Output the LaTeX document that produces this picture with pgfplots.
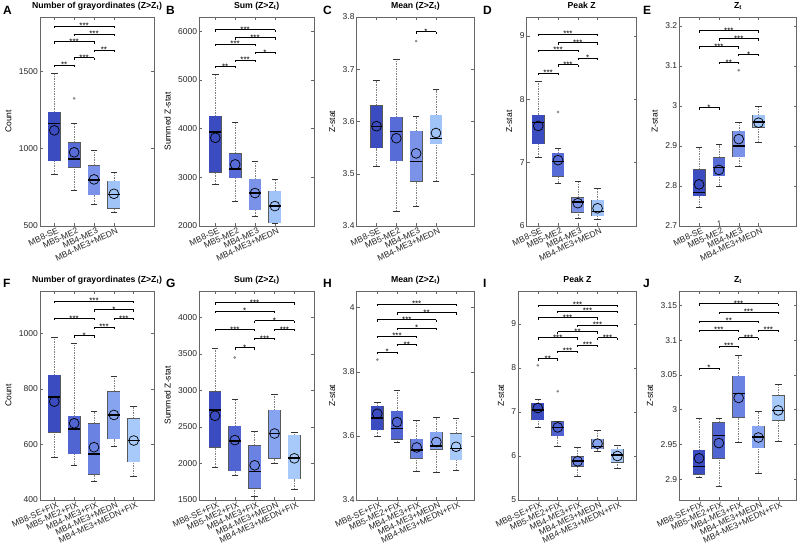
\documentclass[border=0pt]{standalone}
\usepackage{fontspec}
\setmainfont{Liberation Sans}
\usepackage{pgfplots}
\pgfplotsset{compat=1.18}

\definecolor{c41}{RGB}{59,76,192}
\definecolor{c42}{RGB}{87,108,214}
\definecolor{c43}{RGB}{122,146,232}
\definecolor{c44}{RGB}{160,195,248}
\definecolor{c51}{RGB}{59,76,192}
\definecolor{c52}{RGB}{80,100,210}
\definecolor{c53}{RGB}{106,130,226}
\definecolor{c54}{RGB}{135,164,240}
\definecolor{c55}{RGB}{168,202,250}

\pgfplotsset{
  panel/.style={
    anchor=south west, scale only axis, clip=false,
    axis line style={black!60, line width=0.5pt},
    tick style={black!60, line width=0.5pt},
    major tick length=3pt,
    tick label style={font=\fontsize{8.5}{10}\selectfont, text=black!85},
    xticklabel style={rotate=25, anchor=north east, inner sep=0.5pt, xshift=2pt, yshift=-1.5pt, font=\fontsize{8.5}{9}\selectfont},
    yticklabel style={inner sep=2pt},
    title style={at={(0.5,1)}, anchor=base, yshift=2.5pt, font=\bfseries\fontsize{8.7}{10}\selectfont},
    ylabel style={font=\fontsize{8.5}{10}\selectfont, yshift=2pt},
    /pgf/number format/assume math mode=true,
    /pgf/number format/1000 sep={},
    scaled y ticks=false,
  },
}

% #1 position, #2 lower whisker, #3 q1, #4 median, #5 q3, #6 upper whisker, #7 mean, #8 colour
\newcommand{\bx}[8]{%
  \addplot[black!50, dash pattern=on 1.5pt off 1pt, line width=0.5pt] coordinates {(#1,#2)(#1,#3)};
  \addplot[black!50, dash pattern=on 1.5pt off 1pt, line width=0.5pt] coordinates {(#1,#5)(#1,#6)};
  \addplot[only marks, mark=-, mark size=3.3pt, mark options={draw=black!80, line width=0.6pt}] coordinates {(#1,#2)(#1,#6)};
  \addplot[black!65, line width=12.8pt, shorten <=-0.45pt, shorten >=-0.45pt] coordinates {(#1,#3)(#1,#5)};
  \addplot[#8, line width=11.9pt] coordinates {(#1,#3)(#1,#5)};
  \addplot[only marks, mark=*, mark size=4.9pt, mark options={fill=#8, draw=black, line width=0.7pt}] coordinates {(#1,#7)};
  \addplot[only marks, mark=-, mark size=5.95pt, mark options={draw=black, line width=1.4pt}] coordinates {(#1,#4)};
}
\newcommand{\outl}[2]{\addplot[only marks, mark=*, mark size=1.1pt, color=black!45] coordinates {(#1,#2)};}
% #1 x1, #2 x2, #3 middle, #4 y, #5 stars
\newcommand{\br}[5]{%
  \addplot[black, line width=0.6pt, mark=|, mark size=1.1pt, mark options={yshift=-1.1pt, line width=0.6pt}] coordinates {(#1,#4)(#2,#4)};
  \node[anchor=base, inner sep=0pt, font=\fontsize{8}{8}\selectfont] at (axis cs:#3,#4) {\raisebox{-2.8pt}{#5}};}

\newcommand{\titN}{Number of grayordinates (Z>Z\textsubscript{t})}
\newcommand{\titS}{Sum (Z>Z\textsubscript{t})}
\newcommand{\titM}{Mean (Z>Z\textsubscript{t})}

\begin{document}
\begin{tikzpicture}
\useasboundingbox (0,0) rectangle (800pt,550pt);

% ---------------- A
\begin{axis}[panel, at={(40pt,324pt)}, width=114pt, height=209pt,
  xmin=0.28, xmax=6.02, ymin=500, ymax=1850, ytick={500,1000,1500},
  xtick={1,2,3,4}, xticklabels={MB8-SE,MB5-ME2,MB4-ME3,MB4-ME3+MEDN},
  title={\titN}, ylabel={Count}]
\bx{1}{834}{921}{1164}{1234}{1485}{1118}{c41}
\bx{2}{731}{878}{932}{1039}{1164}{976}{c42}
\bx{3}{640}{703}{797}{889}{989}{801}{c43}
\bx{4}{589}{615}{705}{788}{847}{708}{c44}
\outl{2}{1324}
\br{1}{2}{1.5}{1539}{**}
\br{2}{3}{2.5}{1588}{***}
\br{3}{4}{3.5}{1638}{**}
\br{1}{3}{2}{1693}{***}
\br{2}{4}{3}{1740}{***}
\br{1}{4}{2.5}{1791}{***}
\end{axis}

% ---------------- B
\begin{axis}[panel, at={(199.3pt,324pt)}, width=114.7pt, height=209pt,
  xmin=0.194, xmax=5.97, ymin=2000, ymax=6290, ytick={2000,3000,4000,5000,6000},
  xtick={1,2,3,4}, xticklabels={MB8-SE,MB5-ME2,MB4-ME3,MB4-ME3+MEDN},
  title={\titS}, ylabel={Summed Z-stat}]
\bx{1}{2854}{3106}{3926}{4248}{5109}{3810}{c41}
\bx{2}{2499}{2991}{3168}{3483}{4125}{3264}{c42}
\bx{3}{2198}{2335}{2676}{2963}{3325}{2676}{c43}
\bx{4}{2061}{2061}{2409}{2716}{2950}{2409}{c44}
\br{1}{2}{1.5}{5279}{**}
\br{2}{3}{2.5}{5410}{***}
\br{3}{4}{3.5}{5566}{*}
\br{1}{3}{2}{5738}{***}
\br{2}{4}{3}{5873}{***}
\br{1}{4}{2.5}{6031}{***}
\end{axis}

% ---------------- C
\begin{axis}[panel, at={(356.7pt,324pt)}, width=117.3pt, height=209pt,
  xmin=0, xmax=5.92, ymin=3.4, ymax=3.8, ytick={3.4,3.5,3.6,3.7,3.8},
  xtick={1,2,3,4}, xticklabels={MB8-SE,MB5-ME2,MB4-ME3,MB4-ME3+MEDN},
  title={\titM}, ylabel={Z-stat}]
\bx{1}{3.515}{3.550}{3.590}{3.630}{3.678}{3.591}{c41}
\bx{2}{3.428}{3.525}{3.581}{3.608}{3.720}{3.568}{c42}
\bx{3}{3.438}{3.486}{3.524}{3.581}{3.610}{3.539}{c43}
\bx{4}{3.486}{3.557}{3.568}{3.612}{3.661}{3.578}{c44}
\outl{3}{3.754}
\br{3}{4}{3.5}{3.772}{*}
\end{axis}

% ---------------- D
\begin{axis}[panel, at={(526.7pt,324pt)}, width=110pt, height=209pt,
  xmin=0.415, xmax=5.98, ymin=6, ymax=9.3, ytick={6,7,8,9},
  xtick={1,2,3,4}, xticklabels={MB8-SE,MB5-ME2,MB4-ME3,MB4-ME3+MEDN},
  title={Peak Z}, ylabel={Z-stat}]
\bx{1}{7.085}{7.294}{7.635}{7.753}{8.285}{7.58}{c41}
\bx{2}{6.679}{6.788}{7.017}{7.148}{7.226}{7.04}{c42}
\bx{3}{6.126}{6.214}{6.38}{6.449}{6.70}{6.36}{c43}
\bx{4}{6.11}{6.16}{6.225}{6.41}{6.60}{6.28}{c44}
\outl{2}{7.8}
\br{1}{2}{1.5}{8.416}{***}
\br{2}{3}{2.5}{8.546}{***}
\br{3}{4}{3.5}{8.65}{*}
\br{1}{3}{2}{8.78}{***}
\br{2}{4}{3}{8.90}{***}
\br{1}{4}{2.5}{9.03}{***}
\end{axis}

% ---------------- E
\begin{axis}[panel, at={(679.3pt,324pt)}, width=117.3pt, height=209pt,
  xmin=0, xmax=5.92, ymin=2.7, ymax=3.222, ytick={2.7,2.8,2.9,3,3.1,3.2},
  xtick={1,2,3,4}, xticklabels={MB8-SE,MB5-ME2,MB4-ME3,MB4-ME3+MEDN},
  title={Z\textsubscript{t}}, ylabel={Z-stat}]
\bx{1}{2.746}{2.775}{2.783}{2.840}{2.896}{2.804}{c41}
\bx{2}{2.800}{2.825}{2.846}{2.870}{2.903}{2.840}{c42}
\bx{3}{2.848}{2.873}{2.900}{2.937}{2.958}{2.917}{c43}
\bx{4}{2.908}{2.947}{2.960}{2.977}{2.998}{2.958}{c44}
\outl{2}{2.711}
\outl{3}{3.089}
\br{1}{2}{1.5}{2.996}{*}
\br{2}{3}{2.5}{3.109}{**}
\br{3}{4}{3.5}{3.129}{*}
\br{1}{3}{2}{3.148}{***}
\br{2}{4}{3}{3.168}{***}
\br{1}{4}{2.5}{3.188}{***}
\end{axis}

% ---------------- F
\begin{axis}[panel, at={(40pt,50pt)}, width=114pt, height=209pt,
  xmin=0.28, xmax=6.02, ymin=400, ymax=1152, ytick={400,600,800,1000},
  xtick={1,2,3,4,5}, xticklabels={MB8-SE+FIX,MB5-ME2+FIX,MB4-ME3+FIX,MB4-ME3+MEDN,MB4-ME3+MEDN+FIX},
  title={\titN}, ylabel={Count}]
\bx{1}{552}{644}{770}{848}{986}{754}{c51}
\bx{2}{526}{566}{656}{702}{964}{676}{c52}
\bx{3}{466}{492}{566}{674}{718}{590}{c53}
\bx{4}{592}{620}{706}{790}{846}{706}{c54}
\bx{5}{484}{538}{614}{692}{736}{614}{c55}
\br{2}{3}{2.5}{992}{*}
\br{3}{4}{3.5}{1022}{***}
\br{4}{5}{4.5}{1054}{***}
\br{1}{3}{2}{1054}{***}
\br{3}{5}{4}{1086}{*}
\br{1}{5}{3}{1116}{***}
\end{axis}

% ---------------- G
\begin{axis}[panel, at={(199.3pt,50pt)}, width=114.7pt, height=209pt,
  xmin=0.21, xmax=5.99, ymin=1500, ymax=4360, ytick={1500,2000,2500,3000,3500,4000},
  xtick={1,2,3,4,5}, xticklabels={MB8-SE+FIX,MB5-ME2+FIX,MB4-ME3+FIX,MB4-ME3+MEDN,MB4-ME3+MEDN+FIX},
  title={\titS}, ylabel={Summed Z-stat}]
\bx{1}{1946}{2224}{2734}{2984}{3581}{2652}{c51}
\bx{2}{1840}{1900}{2310}{2510}{2880}{2320}{c52}
\bx{3}{1545}{1660}{1890}{2245}{2440}{1975}{c53}
\bx{4}{2000}{2070}{2410}{2725}{2950}{2410}{c54}
\bx{5}{1650}{1790}{2075}{2385}{2430}{2070}{c55}
\outl{2}{3450}
\br{2}{3}{2.5}{3586}{*}
\br{3}{4}{3.5}{3713}{***}
\br{1}{3}{2}{3836}{***}
\br{4}{5}{4.5}{3836}{***}
\br{3}{5}{4}{3954}{*}
\br{1}{4}{2.5}{4087}{*}
\br{1}{5}{3}{4205}{***}
\end{axis}

% ---------------- H
\begin{axis}[panel, at={(356.7pt,50pt)}, width=117.3pt, height=209pt,
  xmin=-0.046, xmax=5.91, ymin=3.4, ymax=4.052, ytick={3.4,3.6,3.8,4},
  xtick={1,2,3,4,5}, xticklabels={MB8-SE+FIX,MB5-ME2+FIX,MB4-ME3+FIX,MB4-ME3+MEDN,MB4-ME3+MEDN+FIX},
  title={\titM}, ylabel={Z-stat}]
\bx{1}{3.599}{3.619}{3.656}{3.693}{3.704}{3.669}{c51}
\bx{2}{3.580}{3.589}{3.624}{3.677}{3.742}{3.643}{c52}
\bx{3}{3.489}{3.530}{3.556}{3.589}{3.648}{3.564}{c53}
\bx{4}{3.485}{3.558}{3.568}{3.612}{3.659}{3.581}{c54}
\bx{5}{3.492}{3.526}{3.560}{3.607}{3.656}{3.566}{c55}
\outl{1}{3.838}
\br{1}{2}{1.5}{3.862}{*}
\br{2}{3}{2.5}{3.886}{**}
\br{1}{3}{2}{3.911}{***}
\br{2}{4}{3}{3.937}{*}
\br{1}{4}{2.5}{3.963}{***}
\br{2}{5}{3.5}{3.985}{**}
\br{1}{5}{3}{4.011}{***}
\end{axis}

% ---------------- I
\begin{axis}[panel, at={(518.3pt,50pt)}, width=118.4pt, height=209pt,
  xmin=0.02, xmax=5.97, ymin=5, ymax=9.75, ytick={5,6,7,8,9},
  xtick={1,2,3,4,5}, xticklabels={MB8-SE+FIX,MB5-ME2+FIX,MB4-ME3+FIX,MB4-ME3+MEDN,MB4-ME3+MEDN+FIX},
  title={Peak Z}, ylabel={Z-stat}]
\bx{1}{6.65}{6.82}{7.05}{7.20}{7.28}{7.09}{c51}
\bx{2}{6.22}{6.46}{6.65}{6.78}{6.80}{6.65}{c52}
\bx{3}{5.55}{5.77}{5.89}{5.98}{6.20}{5.88}{c53}
\bx{4}{6.10}{6.17}{6.22}{6.38}{6.58}{6.28}{c54}
\bx{5}{5.72}{5.86}{6.02}{6.16}{6.25}{6.00}{c55}
\outl{1}{8.06}
\outl{2}{7.47}
\br{1}{2}{1.5}{8.216}{**}
\br{2}{3}{2.5}{8.383}{***}
\br{3}{4}{3.5}{8.52}{***}
\br{4}{5}{4.5}{8.688}{***}
\br{1}{3}{2}{8.688}{***}
\br{2}{4}{3}{8.825}{**}
\br{3}{5}{4}{8.977}{***}
\br{1}{4}{2.5}{9.145}{***}
\br{2}{5}{3.5}{9.297}{***}
\br{1}{5}{3}{9.434}{***}
\end{axis}

% ---------------- J
\begin{axis}[panel, at={(679.3pt,50pt)}, width=117.3pt, height=209pt,
  xmin=0, xmax=5.93, ymin=2.87, ymax=3.171, ytick={2.9,2.95,3,3.05,3.1,3.15},
  xtick={1,2,3,4,5}, xticklabels={MB8-SE+FIX,MB5-ME2+FIX,MB4-ME3+FIX,MB4-ME3+MEDN,MB4-ME3+MEDN+FIX},
  title={Z\textsubscript{t}}, ylabel={Z-stat}]
\bx{1}{2.903}{2.907}{2.918}{2.942}{2.988}{2.930}{c51}
\bx{2}{2.890}{2.930}{2.963}{2.981}{2.988}{2.952}{c52}
\bx{3}{2.953}{2.989}{3.023}{3.048}{3.078}{3.017}{c53}
\bx{4}{2.909}{2.945}{2.961}{2.976}{2.998}{2.960}{c54}
\bx{5}{2.954}{2.985}{2.999}{3.020}{3.036}{2.999}{c55}
\br{1}{2}{1.5}{3.060}{*}
\br{2}{3}{2.5}{3.092}{***}
\br{3}{4}{3.5}{3.104}{***}
\br{1}{3}{2}{3.115}{***}
\br{4}{5}{4.5}{3.115}{***}
\br{1}{4}{2.5}{3.128}{**}
\br{2}{5}{3.5}{3.141}{***}
\br{1}{5}{3}{3.153}{***}
\end{axis}

% panel letters
\begin{scope}[every node/.style={anchor=base west, inner sep=0pt, font=\bfseries\fontsize{12}{14}\selectfont}]
\node at (3pt,535pt) {A};
\node at (166pt,535pt) {B};
\node at (323pt,535pt) {C};
\node at (483pt,535pt) {D};
\node at (643pt,535pt) {E};
\node at (3pt,263pt) {F};
\node at (166pt,263pt) {G};
\node at (323pt,263pt) {H};
\node at (483pt,263pt) {I};
\node at (643pt,263pt) {J};
\end{scope}
\end{tikzpicture}
\end{document}
